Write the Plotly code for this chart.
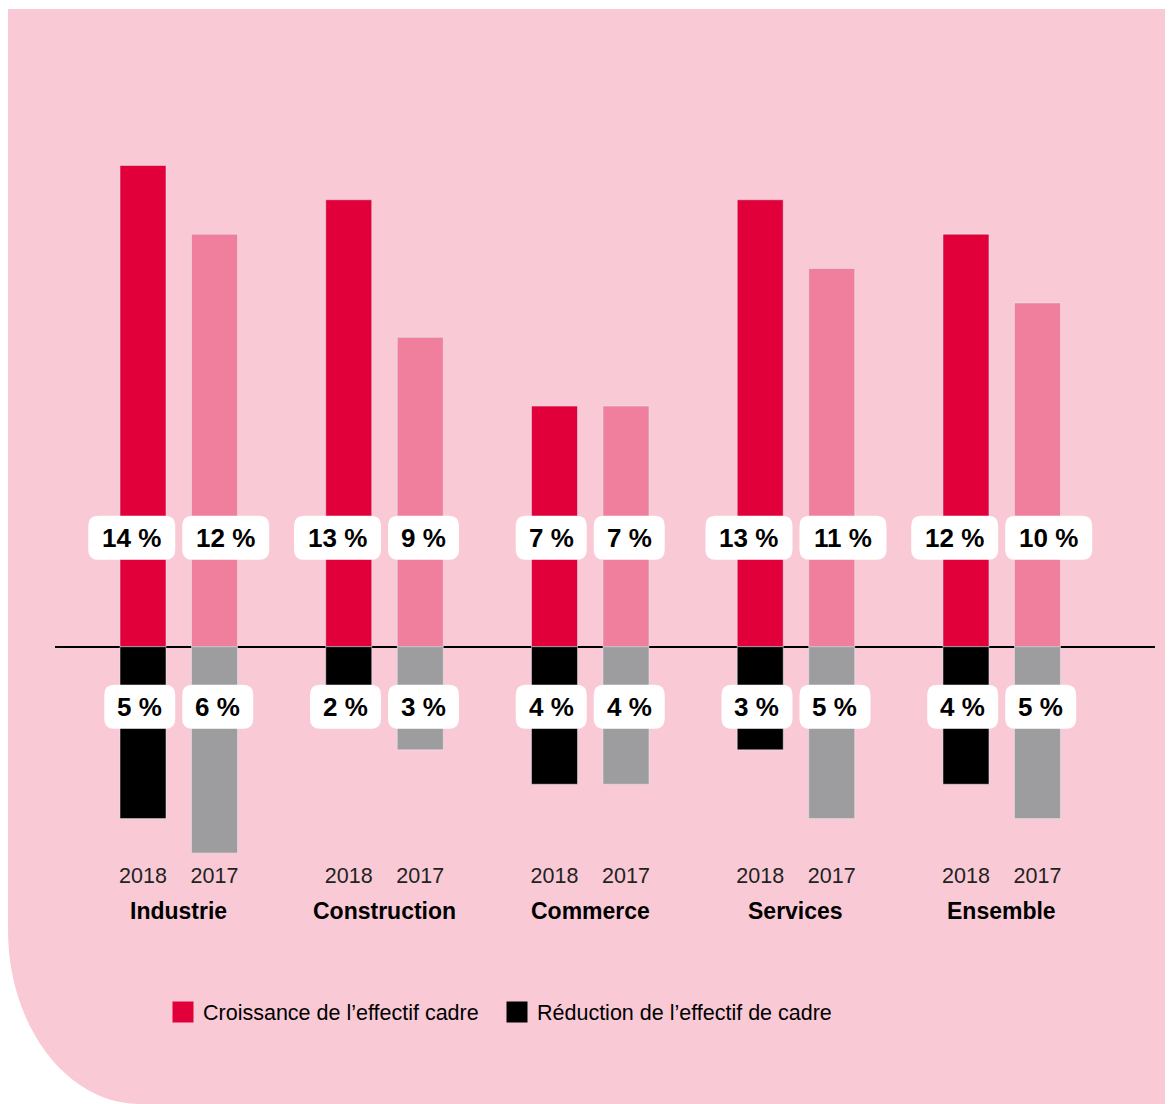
import plotly.graph_objects as go

# data (percent of companies)
categories = ["Industrie", "Construction", "Commerce", "Services", "Ensemble"]
years = ["2018", "2017"]
growth_2018 = [14, 13, 7, 13, 12]
growth_2017 = [12, 9, 7, 11, 10]
reduction_2018 = [5, 2, 4, 3, 4]
reduction_2017 = [6, 3, 4, 5, 5]

RED = "#E1003A"
PINK = "#EF7F9C"
BLACK = "#000000"
GREY = "#9D9D9F"
BG = "#F9CAD5"

# the page adds an 8px margin, so layout pixels are screen pixels minus 8
SHIFT = 8
W, H = 1173, 1104
L, R, T, B = 47, 26, 123, 259
PW, PH = W - L - R, H - T - B

XMIN, XMAX = -0.6015, 4.745
YMIN, YMAX = -6, 15
XPX = PW / (XMAX - XMIN)   # pixels per group
YPX = PH / (YMAX - YMIN)   # pixels per percent

OFF = 35.75 / XPX           # bar centre offset from group centre
BW = 46 / XPX               # bar width

FONT = "Liberation Sans, Arial, sans-serif"

idx = list(range(len(categories)))
x18 = [i - OFF for i in idx]
x17 = [i + OFF for i in idx]

fig = go.Figure()
fig.add_trace(go.Bar(x=x18, y=growth_2018, width=BW, marker_color=RED, showlegend=False))
fig.add_trace(go.Bar(x=x17, y=growth_2017, width=BW, marker_color=PINK, showlegend=False))
fig.add_trace(go.Bar(x=x18, y=[-v for v in reduction_2018], width=BW, marker_color=BLACK, showlegend=False))
fig.add_trace(go.Bar(x=x17, y=[-v for v in reduction_2017], width=BW, marker_color=GREY, showlegend=False))

# legend entries
fig.add_trace(go.Scatter(x=[None], y=[None], mode="markers", name="Croissance de l\u2019effectif cadre",
                         marker=dict(symbol="square", size=16, color=RED, line=dict(color=RED, width=5))))
fig.add_trace(go.Scatter(x=[None], y=[None], mode="markers", name="R\u00e9duction de l\u2019effectif de cadre",
                         marker=dict(symbol="square", size=16, color=BLACK, line=dict(color=BLACK, width=5))))


def px_x(p):
    # screen x -> paper x
    return (p - SHIFT - L) / PW


def px_y(p):
    # screen y -> paper y
    return (H - B - (p - SHIFT)) / PH


shapes = []
# pink panel with rounded bottom-left corner
panel = (f"M {px_x(8)},{px_y(9)} L {px_x(W + 20)},{px_y(9)} L {px_x(W + 20)},{px_y(H + 20)} "
         f"L {px_x(140)},{px_y(H + 20)} L {px_x(140)},{px_y(H)} "
         f"C {px_x(67)},{px_y(H)} {px_x(8)},{px_y(1026)} {px_x(8)},{px_y(930)} Z")
shapes.append(dict(type="path", xref="paper", yref="paper", path=panel,
                   fillcolor=BG, line=dict(width=0), layer="below"))


def rounded_box(x0, x1, yc, hpx=44, rpx=10):
    rx, ry = rpx / XPX, rpx / YPX
    y0, y1 = yc - hpx / 2 / YPX, yc + hpx / 2 / YPX
    return (f"M {x0 + rx},{y0} L {x1 - rx},{y0} Q {x1},{y0} {x1},{y0 + ry} "
            f"L {x1},{y1 - ry} Q {x1},{y1} {x1 - rx},{y1} L {x0 + rx},{y1} "
            f"Q {x0},{y1} {x0},{y1 - ry} L {x0},{y0 + ry} Q {x0},{y0} {x0 + rx},{y0} Z")


annotations = []
y_pos = (647 - 538) / YPX
y_neg = -(707 - 647) / YPX
gap = 3.5 / XPX
for i in idx:
    for vals, side, yc in [(growth_2018, -1, y_pos), (growth_2017, 1, y_pos),
                           (reduction_2018, -1, y_neg), (reduction_2017, 1, y_neg)]:
        txt = f"{vals[i]} %"
        wpx = 55 + 16 * len(str(vals[i]))
        if side < 0:
            x1 = i - gap
            x0 = x1 - wpx / XPX
        else:
            x0 = i + gap
            x1 = x0 + wpx / XPX
        shapes.append(dict(type="path", xref="x", yref="y", path=rounded_box(x0, x1, yc),
                           fillcolor="white", line=dict(width=0), layer="above"))
        annotations.append(dict(x=(x0 + x1) / 2, y=yc, xref="x", yref="y", text=f"<b>{txt}</b>",
                                showarrow=False, xanchor="center", yanchor="middle",
                                font=dict(family=FONT, size=26, color="black")))

# category names under the year ticks
for i, c in zip(idx, categories):
    annotations.append(dict(x=i, y=px_y(911), xref="x", yref="paper", text=f"<b>{c}</b>",
                            showarrow=False, xanchor="center", yanchor="middle",
                            font=dict(family=FONT, size=23, color="black")))

tickvals, ticktext = [], []
for i in idx:
    tickvals += [i - OFF, i + OFF]
    ticktext += years

fig.update_layout(
    width=W, height=H,
    margin=dict(l=L, r=R, t=T, b=B),
    paper_bgcolor="white",
    plot_bgcolor="rgba(0,0,0,0)",
    barmode="overlay",
    shapes=shapes,
    annotations=annotations,
    font=dict(family=FONT, color="black"),
    xaxis=dict(range=[XMIN, XMAX], tickvals=tickvals, ticktext=ticktext, showgrid=False,
               zeroline=False, showline=False, ticks="", ticklabelstandoff=7,
               tickfont=dict(family=FONT, size=21.5, color="#222")),
    yaxis=dict(range=[YMIN, YMAX], showgrid=False, showticklabels=False, ticks="",
               zeroline=True, zerolinecolor="black", zerolinewidth=1.5),
    legend=dict(orientation="h", x=px_x(163), xanchor="left", y=px_y(1012), yanchor="middle",
                font=dict(family=FONT, size=21.5, color="black"), bgcolor="rgba(0,0,0,0)",
                entrywidth=289, entrywidthmode="pixels", itemclick=False),
)

fig.write_html("out.html")
